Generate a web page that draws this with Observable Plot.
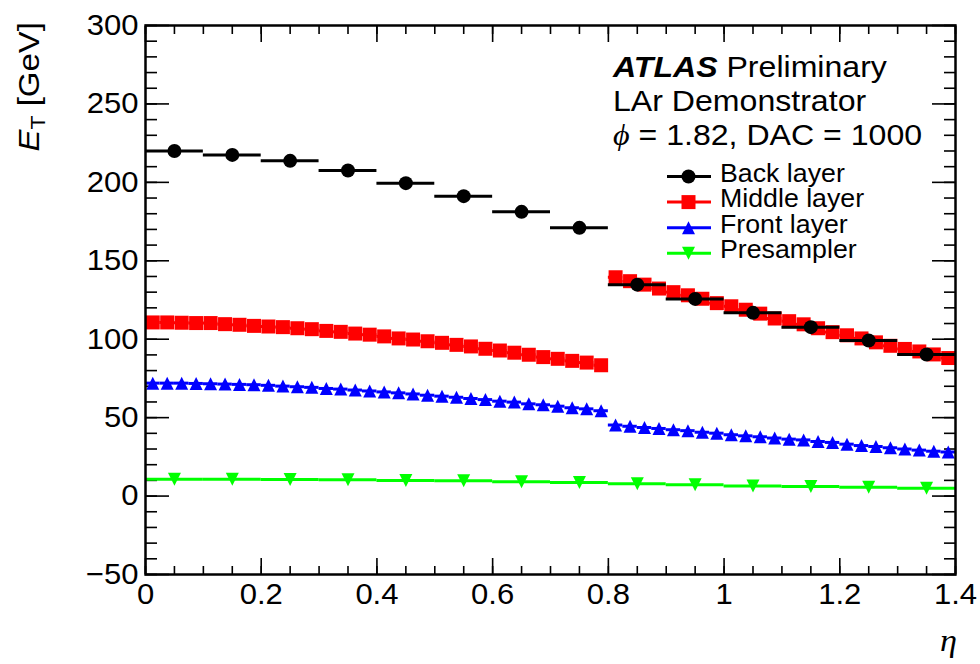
<!DOCTYPE html>
<html>
<head>
<meta charset="utf-8">
<script src="https://cdn.jsdelivr.net/npm/d3@7"></script>
<script src="https://cdn.jsdelivr.net/npm/@observablehq/plot@0.6"></script>
<style>
  html, body { margin: 0; padding: 0; background: #fff; }
  #chart svg { display: block; }
</style>
</head>
<body>
<div id="chart"></div>
<script>
// Calibration pulse energies per calorimeter layer vs eta (phi = 1.82, DAC = 1000)

// Back layer: bins of width 0.1 in eta
const backEta = [0.05, 0.15, 0.25, 0.35, 0.45, 0.55, 0.65, 0.75, 0.85, 0.95, 1.05, 1.15, 1.25, 1.35];
const backET = [220.0, 217.5, 213.7, 207.6, 199.5, 191.2, 181.2, 171.0, 134.8, 125.7, 116.8, 107.7, 99.2, 90.3];

// Middle and front layers: bins of width 0.025 in eta
const fineEta = d3.range(56).map(i => 0.0125 + 0.025 * i);
const middleET = [
  110.7, 110.7, 110.5, 110.3, 110.3, 109.6, 109.2, 108.5, 108.1, 107.7, 107.0, 106.4, 105.3, 104.7, 103.6, 102.9,
  101.8, 100.5, 99.8, 98.7, 97.7, 96.4, 95.4, 93.9, 92.8, 91.4, 90.1, 88.6, 87.5, 86.2, 85.1, 83.4,
  139.5, 137.0, 134.8, 132.3, 130.0, 128.0, 125.8, 123.0, 121.0, 118.8, 116.3, 113.2,
  111.5, 109.5, 107.0, 104.5, 102.5, 100.5, 98.0, 95.8, 93.8, 92.2, 90.3, 88.0
];
const frontET = [
  72.0, 72.0, 72.0, 71.8, 71.6, 71.4, 71.2, 71.0, 70.6, 70.1, 69.7, 69.3, 68.6, 68.2, 67.6, 67.0,
  66.4, 65.8, 65.1, 64.3, 63.7, 63.0, 62.2, 61.5, 60.5, 59.9, 58.8, 58.2, 57.3, 56.3, 55.6, 54.4,
  45.3, 44.5, 43.7, 43.1, 42.3, 41.7, 40.7, 40.1, 39.1, 38.4, 37.8, 37.0,
  36.3, 35.8, 34.8, 34.2, 33.1, 32.2, 31.6, 30.8, 30.0, 29.3, 28.6, 28.1
];

// Presampler: bins of width 0.1 in eta
const presamplerEta = backEta;
const presamplerET = [10.8, 10.8, 10.6, 10.4, 10.0, 9.8, 9.1, 8.7, 7.8, 7.2, 6.5, 6.1, 5.7, 5.0];

// Axis ticks
const xTicks = [0, 0.2, 0.4, 0.6, 0.8, 1, 1.2, 1.4];
const xMinorTicks = d3.range(0, 29).map(i => i * 0.05);
const yTicks = [-50, 0, 50, 100, 150, 200, 250, 300];
const yMinorTicks = d3.range(-50, 301, 10);

const series = [
  {name: "Back layer", color: "#000000", shape: "circle", r: 7},
  {name: "Middle layer", color: "#ff0000", shape: "square", r: 7},
  {name: "Front layer", color: "#0000ff", shape: "up", r: 6.5},
  {name: "Presampler", color: "#00ff00", shape: "down", r: 6.5}
];

// ROOT-like marker shapes centred on their bounding box
const polySymbol = pts => ({
  draw(ctx, size) {
    const r = Math.sqrt(size / Math.PI);
    ctx.moveTo(pts[0][0] * r, pts[0][1] * r);
    for (const [px, py] of pts.slice(1)) ctx.lineTo(px * r, py * r);
    ctx.closePath();
  }
});
const symbols = {
  circle: d3.symbolCircle,
  square: polySymbol([[-1, -1], [1, -1], [1, 1], [-1, 1]]),
  up: polySymbol([[0, -1], [1, 1], [-1, 1]]),
  down: polySymbol([[0, 1], [1, -1], [-1, -1]])
};

const binned = (eta, values, width) =>
  values.map((v, i) => ({x: eta[i], x1: eta[i] - width / 2, x2: eta[i] + width / 2, y: v}));

const back = binned(backEta, backET, 0.1);
const middle = binned(fineEta, middleET, 0.025);
const front = binned(fineEta, frontET, 0.025);
const presampler = binned(presamplerEta, presamplerET, 0.1);

const fmt = d => (d < 0 ? "\u2212" + (-d) : String(d));
const sans = "'Liberation Sans', Helvetica, Arial, sans-serif";
const serif = "'Liberation Serif', 'DejaVu Serif', 'Times New Roman', serif";
const stretch = 1.07; // the type is set slightly wide

function layer(data, s) {
  return [
    Plot.ruleY(data, {y: "y", x1: "x1", x2: "x2", stroke: s.color, strokeWidth: 3}),
    Plot.dot(data, {x: "x", y: "y", r: s.r, symbol: symbols[s.shape], fill: s.color, stroke: "none"})
  ];
}

const tickStyle = {stroke: "black", strokeWidth: 1.6, fill: "none", label: null};

const chart = Plot.plot({
  width: 980,
  height: 664,
  marginLeft: 145,
  marginRight: 25,
  marginTop: 25,
  marginBottom: 90,
  style: {fontFamily: sans, fontSize: "29px", color: "black", background: "white", overflow: "visible"},
  x: {domain: [0, 1.4], label: null},
  y: {domain: [-50, 300], label: null},
  marks: [
    // inward ticks on all four sides
    Plot.axisX({anchor: "bottom", ticks: xMinorTicks, tickSize: -8, ...tickStyle}),
    Plot.axisX({anchor: "bottom", ticks: xTicks, tickSize: -16, ...tickStyle}),
    Plot.axisX({anchor: "top", ticks: xMinorTicks, tickSize: -8, ...tickStyle}),
    Plot.axisX({anchor: "top", ticks: xTicks, tickSize: -16, ...tickStyle}),
    Plot.axisY({anchor: "left", ticks: yMinorTicks, tickSize: -12, ...tickStyle}),
    Plot.axisY({anchor: "left", ticks: yTicks, tickSize: -24, ...tickStyle}),
    Plot.axisY({anchor: "right", ticks: yMinorTicks, tickSize: -12, ...tickStyle}),
    Plot.axisY({anchor: "right", ticks: yTicks, tickSize: -24, ...tickStyle}),
    // tick labels
    Plot.axisX({anchor: "bottom", ticks: xTicks, tickSize: 0, tickPadding: 9, tickFormat: fmt, fontSize: 29, label: null}),
    Plot.axisY({anchor: "left", ticks: yTicks, tickSize: 0, tickPadding: 7, tickFormat: fmt, fontSize: 29, label: null}),
    // data
    ...layer(presampler, series[3]),
    ...layer(front, series[2]),
    ...layer(middle, series[1]),
    ...layer(back, series[0]),
    Plot.frame({stroke: "black", strokeWidth: 2.5})
  ]
});

document.getElementById("chart").append(chart);

const svg = d3.select(chart);

// widen the tick labels about their own anchor points, keeping Plot's placement
svg.selectAll('g[aria-label$="tick label"] text').each(function () {
  const box = this.getBBox();
  const anchor = getComputedStyle(this).textAnchor;
  const ax = anchor === "end" ? box.x + box.width
    : anchor === "middle" ? box.x + box.width / 2
    : box.x;
  const t = this.getAttribute("transform") || "";
  this.setAttribute("transform",
    `${t} translate(${ax},0) scale(${stretch},1) translate(${-ax},0)`.trim());
});

function textAt(parent, x, y, anchor = "start") {
  return parent.append("text")
    .attr("transform", `translate(${x},${y}) scale(${stretch},1)`)
    .attr("text-anchor", anchor);
}

// axis titles
const yTitle = svg.append("text")
  .attr("transform", "translate(39,22) rotate(-90) scale(1.1,1)")
  .attr("text-anchor", "end")
  .attr("font-family", sans)
  .attr("font-size", 30)
  .attr("fill", "black");
yTitle.append("tspan").attr("font-style", "italic").text("E");
yTitle.append("tspan").attr("font-size", 21).attr("dy", 6).text("T");
yTitle.append("tspan").attr("dy", -6).text(" [GeV]");

textAt(svg, 957, 651, "end")
  .attr("font-family", serif)
  .attr("font-style", "italic")
  .attr("font-size", 32)
  .attr("fill", "black")
  .text("\u03b7");

// experiment label
const label = svg.append("g").attr("font-family", sans).attr("font-size", 30).attr("fill", "black");
const l1 = textAt(label, 613, 77);
l1.append("tspan").attr("font-weight", "bold").attr("font-style", "italic").text("ATLAS");
l1.append("tspan").text(" Preliminary");
textAt(label, 613, 111).text("LAr Demonstrator");
const l3 = textAt(label, 613, 145);
l3.append("tspan").attr("font-family", serif).attr("font-style", "italic").text("\u03d5");
l3.append("tspan").text(" = 1.82, DAC = 1000");

// legend
const legend = svg.append("g").attr("font-family", sans).attr("font-size", 25).attr("fill", "black");
series.forEach((s, i) => {
  const cy = 176.5 + 25.6 * i;
  legend.append("line")
    .attr("x1", 667).attr("x2", 711).attr("y1", cy).attr("y2", cy)
    .attr("stroke", s.color).attr("stroke-width", 3);
  legend.append("path")
    .attr("transform", `translate(688.5,${cy})`)
    .attr("d", d3.symbol().type(symbols[s.shape]).size(Math.PI * s.r * s.r)())
    .attr("fill", s.color);
  textAt(legend, 720, cy + 5).text(s.name);
});
</script>
</body>
</html>
